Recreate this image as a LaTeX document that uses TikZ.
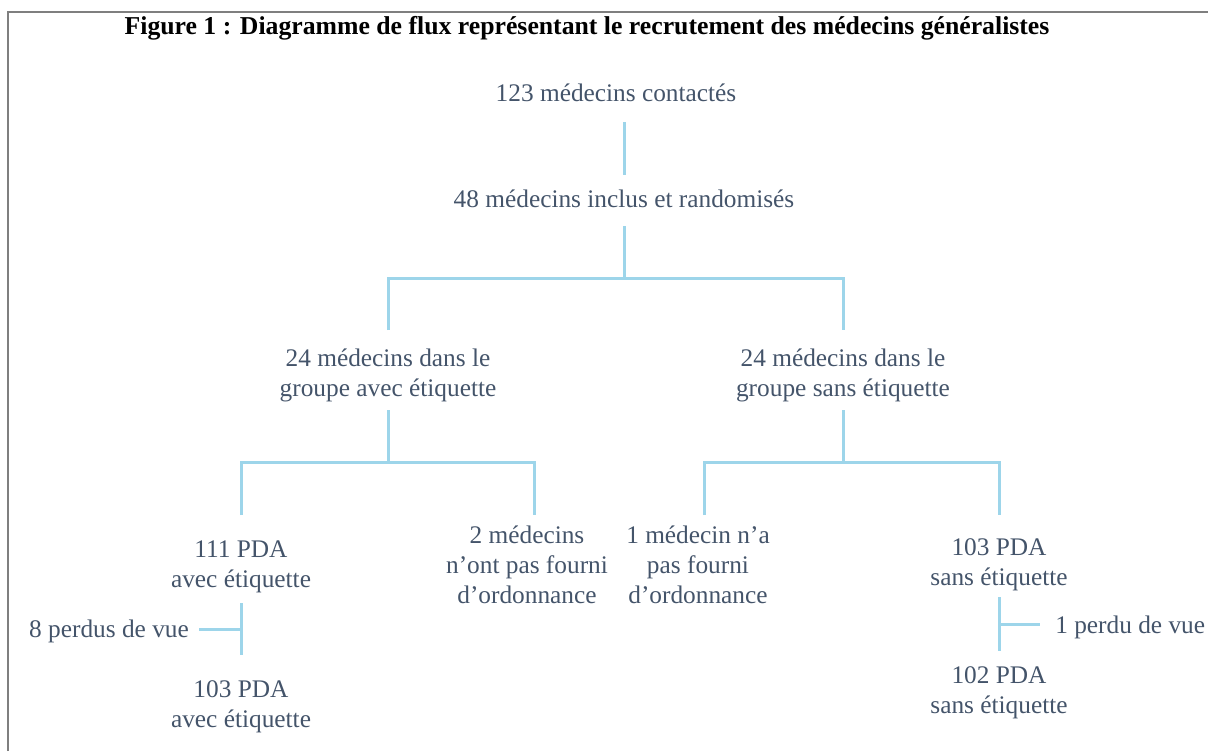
\documentclass[tikz,border=0pt]{standalone}
\usepackage{fontspec}
\setmainfont{Liberation Serif}
\definecolor{txt}{HTML}{44546A}
\definecolor{lnk}{HTML}{9DD5EA}
\definecolor{frm}{HTML}{7F7F7F}
\begin{document}
\begin{tikzpicture}[x=0.75pt,y=-0.75pt,
  lbl/.style={text=txt,font=\fontsize{19}{22.5}\selectfont,align=center,inner sep=0pt,anchor=base},
  conn/.style={draw=lnk,line width=2.25pt},
  frame/.style={draw=frm,line width=1.5pt}]
\useasboundingbox (0,0) rectangle (1208,751);
\draw[frame] (8,751) -- (8,12) -- (1208,12);
\node[font=\fontsize{19.3}{22}\selectfont\bfseries,inner sep=0pt,anchor=base] (title) at (587,34) {Figure 1 : Diagramme de flux représentant le recrutement des médecins généralistes};
\node[lbl] (n123) at (616,101) {123 médecins contactés};
\node[lbl] (n48) at (624,207) {48 médecins inclus et randomisés};
\node[lbl] (gA) at (388,396) {24 médecins dans le\\groupe avec étiquette};
\node[lbl] (gS) at (843,396) {24 médecins dans le\\groupe sans étiquette};
\node[lbl] (pA) at (241,587) {111 PDA\\avec étiquette};
\node[lbl] (m2) at (527,603) {2 médecins\\n’ont pas fourni\\d’ordonnance};
\node[lbl] (m1) at (698,603) {1 médecin n’a\\pas fourni\\d’ordonnance};
\node[lbl] (pS) at (999,585) {103 PDA\\sans étiquette};
\node[lbl] (lA) at (109,637) {8 perdus de vue};
\node[lbl,anchor=base west] (lS) at (1055,633) {1 perdu de vue};
\node[lbl] (fA) at (241,727) {103 PDA\\avec étiquette};
\node[lbl] (fS) at (999,713) {102 PDA\\sans étiquette};
% junction coordinates
\coordinate (a1) at (624,122); \coordinate (a2) at (624,175);
\coordinate (b1) at (624,226); \coordinate (b2) at (624,278);
\coordinate (bL) at (388,330); \coordinate (bR) at (843,330);
\coordinate (c1) at (388,410); \coordinate (c2) at (388,462);
\coordinate (cL) at (241,515); \coordinate (cR) at (534,515);
\coordinate (d1) at (843,410); \coordinate (d2) at (843,462);
\coordinate (dL) at (704,515); \coordinate (dR) at (999,515);
\coordinate (e1) at (241,603); \coordinate (e2) at (241,655); \coordinate (e3) at (241,629); \coordinate (eL) at (199,629);
\coordinate (f1) at (999,597); \coordinate (f2) at (999,651); \coordinate (f3) at (999,624); \coordinate (fR) at (1040,624);
\draw[conn] (a1) -- (a2);
\draw[conn] (b1) -- (b2);
\draw[conn] (bL) -- (bL |- b2) -- (bR |- b2) -- (bR);
\draw[conn] (c1) -- (c2);
\draw[conn] (cL) -- (cL |- c2) -- (cR |- c2) -- (cR);
\draw[conn] (d1) -- (d2);
\draw[conn] (dL) -- (dL |- d2) -- (dR |- d2) -- (dR);
\draw[conn] (e1) -- (e2);
\draw[conn] (eL) -- (e3);
\draw[conn] (f1) -- (f2);
\draw[conn] (f3) -- (fR);
\end{tikzpicture}
\end{document}
